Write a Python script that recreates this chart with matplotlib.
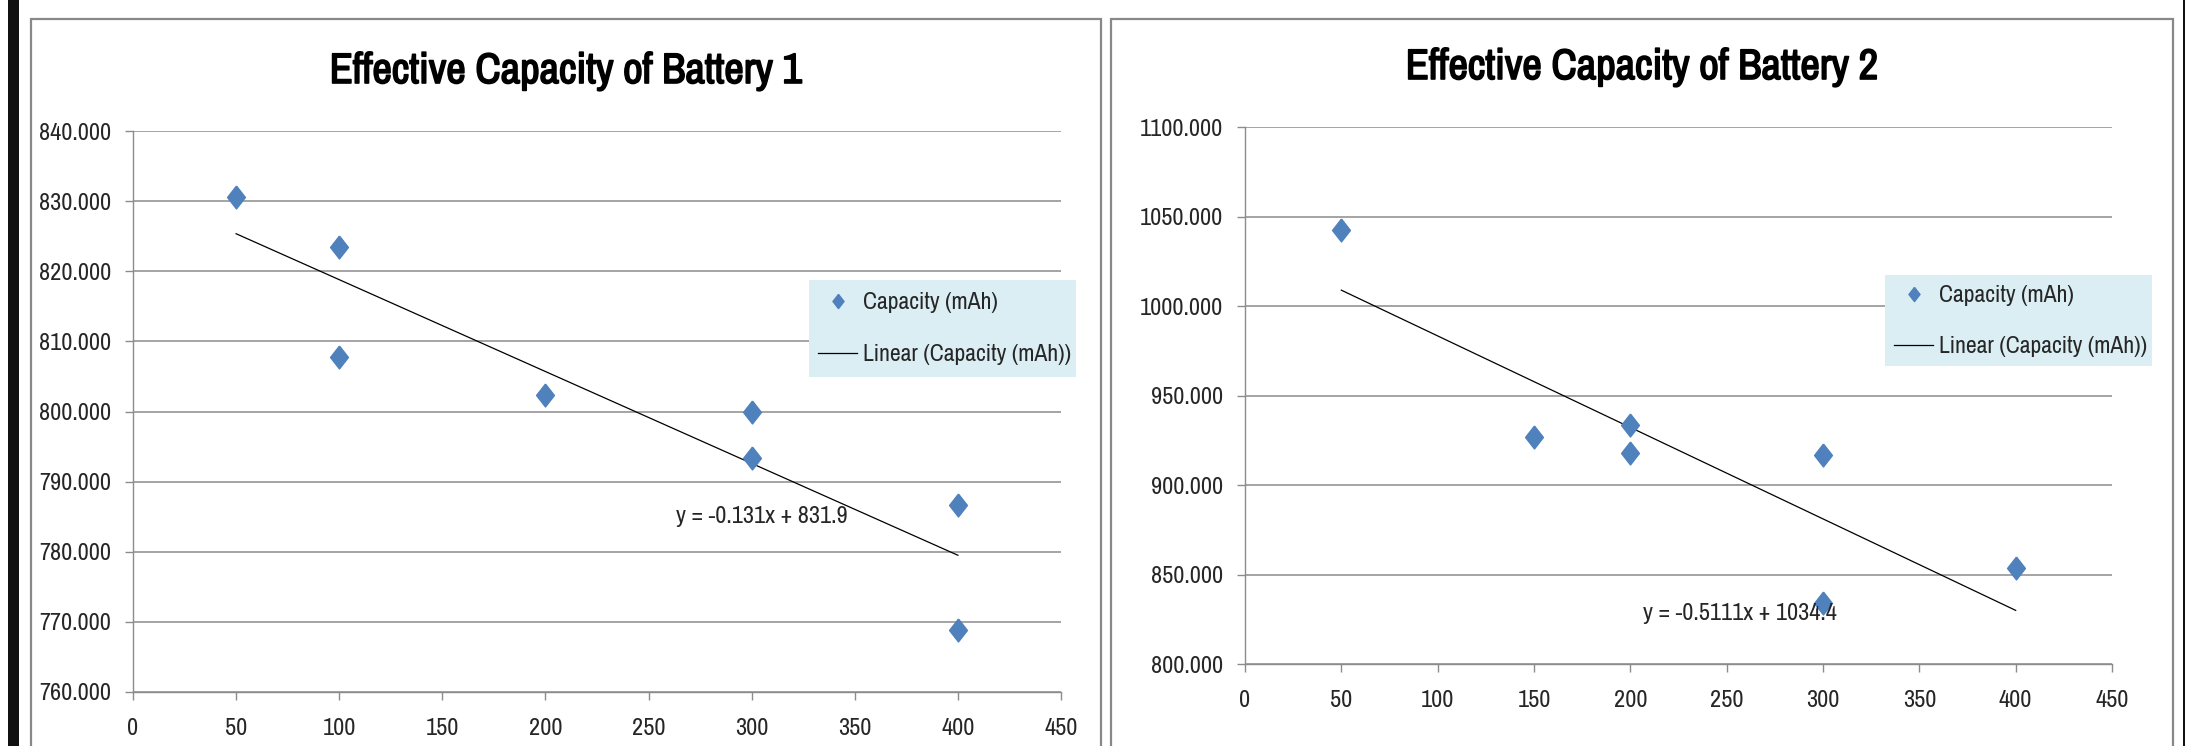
import numpy as np
import matplotlib
matplotlib.use("Agg")
import matplotlib.pyplot as plt
from matplotlib import font_manager
from matplotlib import patheffects
from matplotlib.patches import Rectangle

# Battery 1 readings
b1_rate = [50, 100, 100, 200, 300, 300, 400, 400]
b1_cap = [830.6, 823.4, 807.8, 802.3, 800.0, 793.3, 786.7, 768.8]
b1_slope, b1_icpt = -0.131, 831.9

# Battery 2 readings
b2_rate = [50, 150, 200, 200, 300, 300, 400]
b2_cap = [1042.2, 926.7, 933.6, 917.9, 916.6, 833.8, 853.8]
b2_slope, b2_icpt = -0.5111, 1034.4

titles = ["Effective Capacity of Battery 1", "Effective Capacity of Battery 2"]
eq_labels = ["y = -0.131x + 831.9", "y = -0.5111x + 1034.4"]
x_ticks = [0, 50, 100, 150, 200, 250, 300, 350, 400, 450]
b1_yticks = [760, 770, 780, 790, 800, 810, 820, 830, 840]
b2_yticks = [800, 850, 900, 950, 1000, 1050, 1100]

# look for a condensed face (the screenshot uses a narrow Calibri look)
ttf = font_manager.fontManager.ttflist
FONT, STRETCH = "Liberation Sans", "normal"
narrow = sorted({f.name for f in ttf if "Narrow" in f.name or "Condensed" in f.name})
if narrow:
    FONT = narrow[0]
else:
    cond = [f for f in ttf if str(f.stretch) in ("condensed", "semi-condensed", "extra-condensed")]
    if cond:
        FONT, STRETCH = cond[0].name, str(cond[0].stretch)
plt.rcParams["font.family"] = [FONT, "DejaVu Sans"]
plt.rcParams["font.stretch"] = STRETCH


def _is_bold(w):
    if isinstance(w, str):
        return w.lower() in ("bold", "heavy", "black", "semibold", "demibold", "extra bold")
    return w >= 600


HAS_BOLD = any(f.name == FONT and _is_bold(f.weight) for f in ttf)

W, H = 2185, 746
BLUE = "#4F81BD"
GRID = "#8c8c8c"
TXT = "#262626"
DIAMOND = [(0, 1), (0.78, 0), (0, -1), (-0.78, 0), (0, 1)]


def fx(px):
    return px / W


def fy(py):
    return 1 - py / H


fig = plt.figure(figsize=(W / 100, H / 100), dpi=100)
fig.patch.set_facecolor("white")
renderer = fig.canvas.get_renderer()


def fit_size(s, target_px, base, weight="normal", cap=None):
    t = fig.text(0, 0, s, fontsize=base, fontweight=weight)
    w = t.get_window_extent(renderer).width
    t.remove()
    size = base * target_px / w
    return min(size, cap) if cap else size


TICK_FS = fit_size("840.000", 74, 17, cap=17.5)
TITLE_FS = fit_size(titles[0], 472, 31, weight="bold", cap=33)
LEG_FS = fit_size("Linear (Capacity (mAh))", 208, 17, cap=17.5)
EQ_FS = fit_size(eq_labels[0], 175, 17, cap=17.5)
title_fx = [] if HAS_BOLD else [patheffects.withStroke(linewidth=1.2, foreground="black")]

# frame decorations from the screenshot
fig.patches.append(Rectangle((fx(8), -0.1), fx(11), 1.2, transform=fig.transFigure,
                             facecolor="#111111", edgecolor="none"))
fig.patches.append(Rectangle((fx(2183), -0.1), fx(3), 1.2, transform=fig.transFigure,
                             facecolor="#111111", edgecolor="none"))
for x0, x1 in [(31, 1101), (1111, 2173)]:
    fig.patches.append(Rectangle((fx(x0), -0.1), fx(x1 - x0), fy(19) + 0.1,
                                 transform=fig.transFigure, facecolor="none",
                                 edgecolor="#888888", linewidth=1.6))

panels = [
    dict(rate=b1_rate, cap=b1_cap, m=b1_slope, b=b1_icpt, yt=b1_yticks,
         box=(133, 1061, 131, 692), title_xy=(566, 71), eq_xy=(305, 785),
         legbox=(809, 1076, 280, 377), leg=(818, 306, 353)),
    dict(rate=b2_rate, cap=b2_cap, m=b2_slope, b=b2_icpt, yt=b2_yticks,
         box=(1245, 2112, 127, 664), title_xy=(1642, 67), eq_xy=(257, 828),
         legbox=(1885, 2152, 275, 366), leg=(1894, 299, 345)),
]

px_per_pt = 100 / 72
for i, p in enumerate(panels):
    x0, x1, y0, y1 = p["box"]
    ax = fig.add_axes([fx(x0), fy(y1), fx(x1 - x0), (y1 - y0) / H])
    ax.plot(p["rate"], p["cap"], linestyle="none", marker=DIAMOND, ms=16.5,
            color=BLUE, label="Capacity (mAh)", zorder=3)
    xs = np.array([min(p["rate"]), max(p["rate"])])
    ax.plot(xs, p["m"] * xs + p["b"], color="black", lw=0.9,
            label="Linear (Capacity (mAh))", zorder=2)
    ax.set_xlim(0, 450)
    ax.set_ylim(p["yt"][0], p["yt"][-1])
    ax.set_xticks(x_ticks)
    ax.set_yticks(p["yt"])
    ax.set_yticklabels([f"{v:.3f}" for v in p["yt"]])
    ax.grid(axis="y", color=GRID, lw=1.1)
    ax.set_axisbelow(True)
    for s in ["top", "right"]:
        ax.spines[s].set_visible(False)
    for s in ["left", "bottom"]:
        ax.spines[s].set_color(GRID)
        ax.spines[s].set_linewidth(1.0)
    ax.tick_params(axis="both", colors=GRID, labelcolor=TXT, labelsize=TICK_FS,
                   length=6, width=1.0)
    ax.tick_params(axis="y", pad=10)
    ax.tick_params(axis="x", pad=13)
    ax.text(p["eq_xy"][0], p["eq_xy"][1], eq_labels[i], ha="center", va="center",
            fontsize=EQ_FS, color=TXT)
    fig.text(fx(p["title_xy"][0]), fy(p["title_xy"][1]), titles[i], ha="center",
             va="center", fontsize=TITLE_FS, fontweight="bold", color="black",
             path_effects=title_fx)

    # legend panel
    lx0, lx1, ly0, ly1 = p["legbox"]
    ax.add_patch(Rectangle((fx(lx0), fy(ly1)), fx(lx1 - lx0), (ly1 - ly0) / H,
                           transform=fig.transFigure, facecolor="#DBEEF4",
                           edgecolor="none", clip_on=False, zorder=4))
    hx, r1, r2 = p["leg"]
    fs_px = LEG_FS * px_per_pt
    row_h = fs_px * 1.17
    leg = ax.legend(loc="upper left",
                    bbox_to_anchor=(fx(hx), fy(r1 - row_h / 2)),
                    bbox_transform=fig.transFigure, frameon=False,
                    fontsize=LEG_FS, markerscale=0.62,
                    handlelength=39 / fs_px, handletextpad=6 / fs_px,
                    labelspacing=(r2 - r1 - row_h + 12) / fs_px,
                    borderpad=0, borderaxespad=0)
    leg.set_zorder(5)
    for t in leg.get_texts():
        t.set_color(TXT)

fig.savefig("out.png", dpi=100)
